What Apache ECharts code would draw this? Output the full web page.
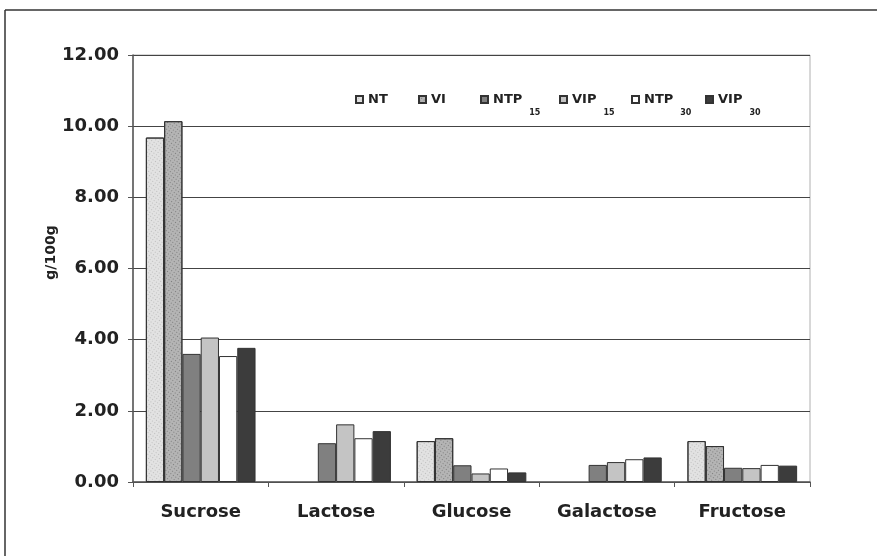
<!DOCTYPE html>
<html>
<head>
<meta charset="utf-8">
<script src="https://cdn.jsdelivr.net/npm/echarts@6/dist/echarts.min.js"></script>
<style>html,body{margin:0;padding:0;background:#fff}#c{width:877px;height:556px}</style>
</head>
<body>
<div id="c"></div>
<script>
var categories = ['Sucrose', 'Lactose', 'Glucose', 'Galactose', 'Fructose'];
var seriesNames = ['NT', 'VI', 'NTP15', 'VIP15', 'NTP30', 'VIP30'];
var legendLabels = ['{m|NT}', '{m|VI}', '{m|NTP}{s|15}', '{m|VIP}{s|15}', '{m|NTP}{s|30}', '{m|VIP}{s|30}'];
var NT    = [9.68, '-', 1.15, '-', 1.15];
var VI    = [10.14, '-', 1.23, '-', 1.01];
var NTP15 = [3.60, 1.09, 0.47, 0.48, 0.40];
var VIP15 = [4.06, 1.62, 0.24, 0.56, 0.39];
var NTP30 = [3.54, 1.23, 0.38, 0.64, 0.48];
var VIP30 = [3.77, 1.43, 0.27, 0.69, 0.46];
var yTicks = { min: 0, max: 12, interval: 2 };

var values = [NT, VI, NTP15, VIP15, NTP30, VIP30];
var fills = ['#e2e2e2', '#b4b4b4', '#808080', '#c4c4c4', '#ffffff', '#3c3c3c'];
var decals = [
  { symbol: 'rect', symbolSize: 1, color: 'rgba(120,120,120,0.35)', dashArrayX: [[1, 2]], dashArrayY: [1, 2], rotation: 0.6 },
  { symbol: 'rect', symbolSize: 1, color: 'rgba(60,60,60,0.45)', dashArrayX: [[1, 2]], dashArrayY: [1, 2], rotation: 0.6 },
  null, null, null, null
];
var legendLefts = [355, 418, 480, 559, 631, 705];

var font = 'DejaVu Sans';
var series = values.map(function (v, i) {
  var s = {
    name: seriesNames[i], type: 'bar', data: v,
    barGap: '0%', barCategoryGap: '19%',
    itemStyle: { color: fills[i], borderColor: '#333', borderWidth: 1 }
  };
  if (decals[i]) s.itemStyle.decal = decals[i];
  return s;
});
var legends = seriesNames.map(function (n, i) {
  return {
    data: [{ name: n, icon: 'rect' }],
    left: legendLefts[i], top: 93,
    itemWidth: 7, itemHeight: 7, padding: 0,
    formatter: function () { return legendLabels[i]; },
    textStyle: {
      fontFamily: font, color: '#222',
      rich: {
        m: { fontFamily: font, fontWeight: 'bold', fontSize: 13, color: '#222' },
        s: { fontFamily: font, fontWeight: 'bold', fontSize: 8, color: '#222', padding: [26, 0, 0, 7] }
      }
    }
  };
});

var chart = echarts.init(document.getElementById('c'), null, { renderer: 'canvas' });
chart.setOption({
  animation: false,
  backgroundColor: '#fff',
  grid: { left: 133, right: 67, top: 55, bottom: 74, show: true, borderColor: '#b0b0b0', borderWidth: 1, backgroundColor: 'transparent' },
  legend: legends,
  xAxis: {
    type: 'category', data: categories,
    axisLine: { lineStyle: { color: '#555', width: 1.5 } },
    axisTick: { show: true, length: 5, lineStyle: { color: '#555' } },
    axisLabel: { interval: 0, margin: 21, fontFamily: font, fontWeight: 'bold', fontSize: 18, color: '#222' }
  },
  yAxis: {
    type: 'value', min: yTicks.min, max: yTicks.max, interval: yTicks.interval,
    name: 'g/100g', nameLocation: 'middle', nameGap: 75, nameMoveOverlap: false,
    nameTextStyle: { fontFamily: font, fontWeight: 'bold', fontSize: 14, color: '#222', padding: [14, 0, 0, 32] },
    axisLine: { show: true, lineStyle: { color: '#555', width: 1.5 } },
    axisTick: { show: true, length: 5, lineStyle: { color: '#555' } },
    axisLabel: { margin: 14, fontFamily: font, fontWeight: 'bold', fontSize: 18, color: '#222',
      formatter: function (v) { return v.toFixed(2); } },
    splitLine: { lineStyle: { color: '#444', width: 1.2 } }
  },
  series: series,
  graphic: [
    { type: 'line', shape: { x1: 5, y1: 10, x2: 877, y2: 10 }, style: { stroke: '#333', lineWidth: 1.5 } },
    { type: 'line', shape: { x1: 5, y1: 10, x2: 5, y2: 556 }, style: { stroke: '#333', lineWidth: 1.5 } }
  ]
});
</script>
</body>
</html>
